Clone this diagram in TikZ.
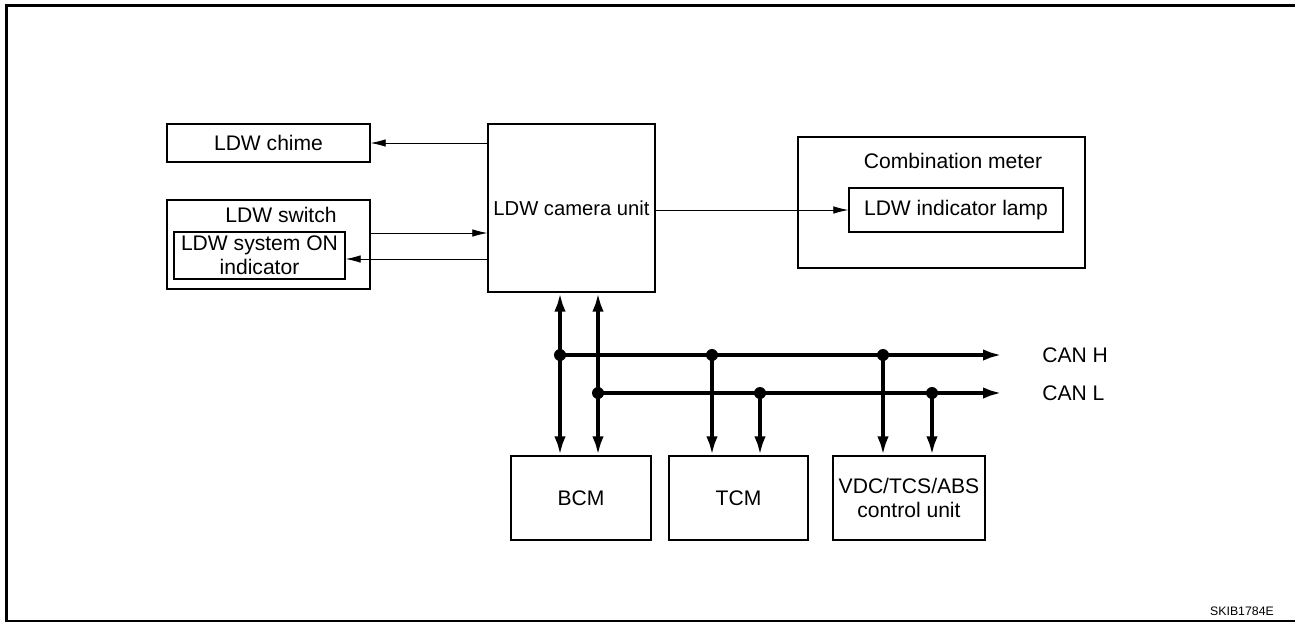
\documentclass[tikz,border=0pt]{standalone}
\usepackage{fontspec}
\setmainfont{Liberation Sans}
\usetikzlibrary{arrows.meta, positioning}

\begin{document}
\begin{tikzpicture}[x=0.02cm, y=-0.02cm, >={Latex[length=3mm, width=1.5mm]},
  font=\fontsize{12}{13.6}\selectfont,
  box/.style={draw, line width=0.8pt, inner sep=0pt, align=center},
  bus/.style={line width=2.2pt, >={Latex[length=3.8mm, width=2.3mm]}},
  dot/.style={circle, fill, inner sep=0pt, minimum size=2.4mm}]
\useasboundingbox (0,0) rectangle (1295,622);
\draw[line width=1.7pt] (1295,5.5) -- (6.5,5.5) -- (6.5,622);
\draw[line width=1.2pt] (6.5,620.8) -- (1295,620.8);
\node[box, minimum width=4.06cm, minimum height=0.76cm] (chime) at (268.5,143) {LDW chime};
\node[box, minimum width=3.34cm, minimum height=3.36cm] (cam) at (571.5,208) {\fontsize{11.5}{13.6}\selectfont LDW camera unit};
\node[box, minimum width=4.06cm, minimum height=1.78cm] (sw) at (268.5,244.5) {};
\node (swlbl) at (281,215) {LDW switch};
\node[box, minimum width=3.42cm, minimum height=0.94cm] (ind) at (259.5,255.5) {LDW system ON\\ indicator};
\node[box, minimum width=5.74cm, minimum height=2.62cm] (meter) at (941.5,202.5) {};
\node (meterlbl) at (953,161) {Combination meter};
\node[box, minimum width=4.28cm, minimum height=0.88cm] (lamp) at (956,210) {LDW indicator lamp};
\node[box, minimum width=2.80cm, minimum height=1.68cm] (bcm) at (581,498) {BCM};
\node[box, minimum width=2.78cm, minimum height=1.68cm] (tcm) at (738.5,498) {TCM};
\node[box, minimum width=3.04cm, minimum height=1.68cm] (vdc) at (909,498) {VDC/TCS/ABS\\ control unit};
\node[anchor=west, inner sep=0pt] (canh) at (1042,355) {CAN H};
\node[anchor=west, inner sep=0pt] (canl) at (1042,393) {CAN L};
\node[font=\fontsize{7}{8}\selectfont] (code) at (1242,611) {SKIB1784E};
\coordinate (swin) at (370,233);
\coordinate (swout) at (488,259);
\coordinate (hend) at (1002,355);
\coordinate (lend) at (1002,393);
\draw[->] (cam.west |- chime) -- (chime.east);
\draw[->] (swin) -- (swin -| cam.west);
\draw[->] (swout) -- (swout -| ind.east);
\draw[->] (cam.east |- lamp) -- (lamp.west);
\node[dot] (h1) at (560,355) {};
\node[dot] (l1) at (598,393) {};
\node[dot] (h2) at (712,355) {};
\node[dot] (l2) at (760,393) {};
\node[dot] (h3) at (883,355) {};
\node[dot] (l3) at (932,393) {};
\draw[bus, <->] (cam.south -| h1) -- (bcm.north -| h1);
\draw[bus, <->] (cam.south -| l1) -- (bcm.north -| l1);
\draw[bus, ->] (h1.center) -- (hend);
\draw[bus, ->] (l1.center) -- (lend);
\draw[bus, ->] (h2.center) -- (h2 |- tcm.north);
\draw[bus, ->] (l2.center) -- (l2 |- tcm.north);
\draw[bus, ->] (h3.center) -- (h3 |- vdc.north);
\draw[bus, ->] (l3.center) -- (l3 |- vdc.north);
\end{tikzpicture}
\end{document}
